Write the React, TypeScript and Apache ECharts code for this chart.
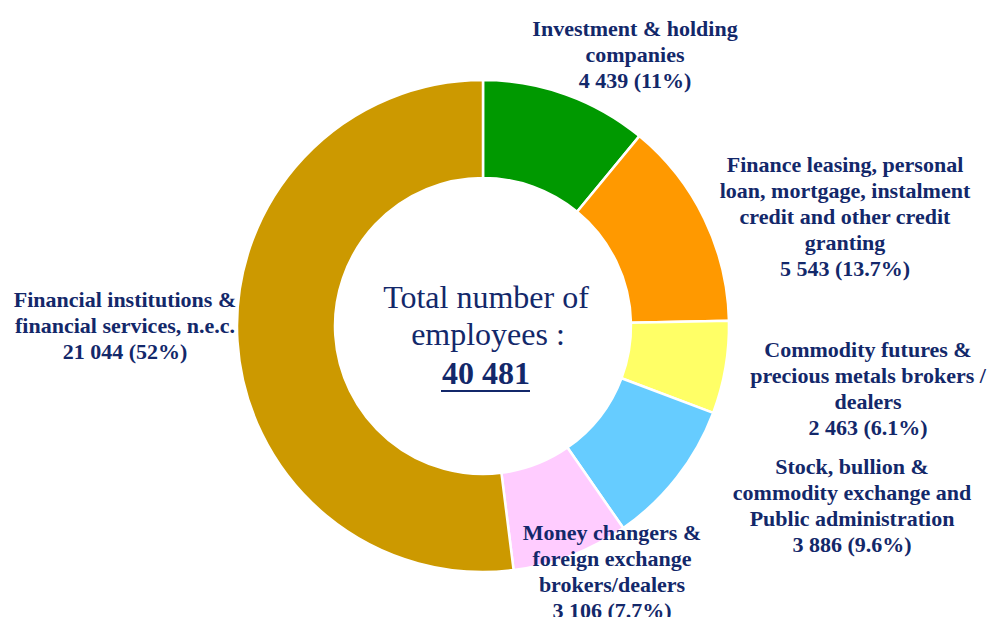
import React, { useEffect, useRef } from "react";
import * as echarts from "echarts";

const categories = [
  "Investment & holding\ncompanies",
  "Finance leasing, personal\nloan, mortgage, instalment\ncredit and other credit\ngranting",
  "Commodity futures &\nprecious metals brokers /\ndealers",
  "Stock, bullion &\ncommodity exchange and\nPublic administration",
  "Money changers &\nforeign exchange\nbrokers/dealers",
  "Financial institutions &\nfinancial services, n.e.c.",
];
const employees = [4439, 5543, 2463, 3886, 3106, 21044];
const colors = ["#009900", "#FF9900", "#FFFF66", "#66CCFF", "#FFCCFF", "#CC9900"];
const centerLines = ["Total number of", "employees :"];

// label anchor positions (centre of each text block)
const labelPos = [
  [635, 54],
  [845, 216],
  [868, 388],
  [852, 505],
  [612, 571],
  [125, 325],
];

const TEXT = "#13286A";
const SERIF = "'Liberation Serif', 'Times New Roman', serif";

function fmtNum(n: number) {
  return String(n).replace(/\B(?=(\d{3})+(?!\d))/g, " ");
}
function fmtPct(p: number) {
  const s = p.toFixed(1);
  return s.endsWith(".0") ? s.slice(0, -2) : s;
}

export default function App() {
  const ref = useRef<HTMLDivElement>(null);
  useEffect(() => {
    if (!ref.current) return;
    const chart = echarts.init(ref.current, undefined, { renderer: "svg" });
    const total = employees.reduce((a, b) => a + b, 0);
    const cx = 483;
    const cy = 326;
    chart.setOption({
      animation: false,
      backgroundColor: "#ffffff",
      series: [
        {
          type: "pie",
          center: [cx, cy],
          radius: [148, 246],
          startAngle: 90,
          clockwise: true,
          avoidLabelOverlap: false,
          itemStyle: { borderColor: "#ffffff", borderWidth: 2.5 },
          label: {
            show: true,
            position: "outside",
            color: TEXT,
            fontFamily: SERIF,
            fontWeight: "bold",
            fontSize: 22,
            lineHeight: 26,
            align: "center",
            formatter: (p: any) =>
              `${p.name}\n${fmtNum(p.value)} (${fmtPct((p.value / total) * 100)}%)`,
          },
          labelLine: { show: false },
          labelLayout: (params: any) => {
            const pos = labelPos[params.dataIndex];
            return { x: pos[0], y: pos[1], align: "center", verticalAlign: "middle" };
          },
          data: categories.map((name, i) => ({
            name,
            value: employees[i],
            itemStyle: { color: colors[i] },
          })),
        },
      ],
      graphic: [
        {
          type: "text",
          style: {
            text: centerLines[0],
            x: cx + 3,
            y: 297,
            align: "center",
            verticalAlign: "middle",
            fill: TEXT,
            font: `32px ${SERIF}`,
          },
        },
        {
          type: "text",
          style: {
            text: centerLines[1],
            x: cx + 5,
            y: 334,
            align: "center",
            verticalAlign: "middle",
            fill: TEXT,
            font: `32px ${SERIF}`,
          },
        },
        {
          type: "text",
          style: {
            text: fmtNum(total),
            x: cx + 3,
            y: 373,
            align: "center",
            verticalAlign: "middle",
            fill: TEXT,
            font: `bold 32px ${SERIF}`,
          },
        },
        {
          type: "line",
          shape: { x1: cx - 42, y1: 391, x2: cx + 47, y2: 391 },
          style: { stroke: TEXT, lineWidth: 2 },
        },
      ],
    });
    return () => chart.dispose();
  }, []);
  return (
    <div
      ref={ref}
      style={{ position: "fixed", left: 0, top: 0, width: 990, height: 617 }}
    />
  );
}
